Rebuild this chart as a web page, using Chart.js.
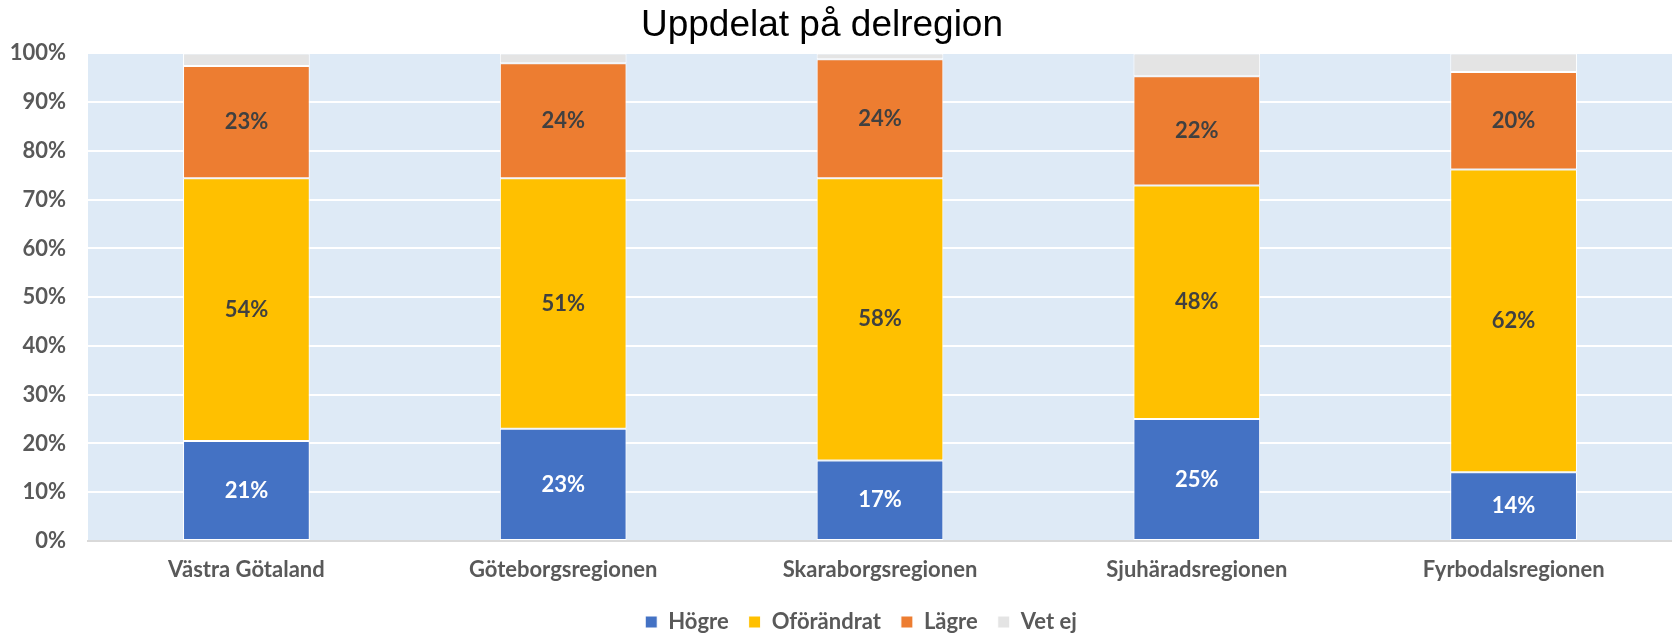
<!DOCTYPE html>
<html>
<head>
<meta charset="utf-8">
<script src="https://cdn.jsdelivr.net/npm/chart.js@4/dist/chart.umd.min.js"></script>
<style>
  html, body { margin: 0; padding: 0; background: #ffffff; }
  #wrap { width: 1672px; height: 635px; position: relative; }
</style>
</head>
<body>
<div id="wrap"><canvas id="c" width="1672" height="635"></canvas></div>
<script>
const categories = ["Västra Götaland", "Göteborgsregionen", "Skaraborgsregionen", "Sjuhäradsregionen", "Fyrbodalsregionen"];
const hogre = [20.5, 23.0, 16.5, 25.0, 14.1];
const oforandrat = [53.9, 51.4, 57.9, 47.9, 62.1];
const lagre = [23.0, 23.6, 24.4, 22.4, 20.0];
const vetEj = [2.6, 2.0, 1.2, 4.7, 3.8];
const yTicks = [0, 10, 20, 30, 40, 50, 60, 70, 80, 90, 100];
const titleText = "Uppdelat på delregion";

const FONT = "Lato";
const TXT = "#595959";
const FS = 22;

const plotBg = {
  id: 'plotBg',
  beforeDraw(chart) {
    const {ctx, chartArea: a} = chart;
    ctx.save();
    ctx.fillStyle = '#DEEAF6';
    ctx.fillRect(a.left, a.top, a.right - a.left, a.bottom - a.top);
    ctx.restore();
  }
};

const blockShift = {
  id: 'blockShift',
  afterLayout(chart) {
    const t = chart.titleBlock;
    if (t) { t.left -= 14; t.right -= 14; }
    const l = chart.legend;
    if (l) { l.left += 25; l.right += 25; }
  }
};

const barLabels = {
  id: 'barLabels',
  afterDatasetsDraw(chart) {
    const ctx = chart.ctx;
    ctx.save();
    ctx.font = "bold " + FS + "px " + FONT;
    ctx.textAlign = 'center';
    ctx.textBaseline = 'middle';
    chart.data.datasets.forEach((ds, di) => {
      if (!ds.showLabel) return;
      const meta = chart.getDatasetMeta(di);
      meta.data.forEach((el, i) => {
        const p = el.getProps(['x', 'y', 'base'], true);
        ctx.fillStyle = ds.labelColor;
        ctx.fillText(Math.round(ds.data[i]) + '%', p.x, (p.y + p.base) / 2);
      });
    });
    ctx.restore();
  }
};

const mk = (label, data, color, showLabel, labelColor) => ({
  label, data, backgroundColor: color, borderColor: '#ffffff', borderWidth: 1,
  borderSkipped: false, categoryPercentage: 1.0, barPercentage: 0.4,
  showLabel, labelColor
});

new Chart(document.getElementById('c'), {
  type: 'bar',
  data: {
    labels: categories,
    datasets: [
      mk('Högre', hogre, '#4472C4', true, '#ffffff'),
      mk('Oförändrat', oforandrat, '#FFC000', true, '#404040'),
      mk('Lägre', lagre, '#ED7D31', true, '#404040'),
      mk('Vet ej', vetEj, '#E4E4E4', false, '#404040')
    ]
  },
  options: {
    responsive: false,
    animation: false,
    devicePixelRatio: 1,
    layout: { padding: { left: 0, right: 0, top: 0, bottom: -8 } },
    plugins: {
      title: {
        display: true, text: titleText, color: '#000000',
        font: { family: "Liberation Sans", size: 37, weight: 'normal' },
        padding: { top: 4, bottom: 5 }
      },
      legend: {
        position: 'bottom',
        labels: {
          boxWidth: 12, boxHeight: 12, padding: 20, color: TXT,
          font: { family: FONT, size: FS, weight: 'bold' }
        }
      },
      tooltip: { enabled: false }
    },
    scales: {
      x: {
        stacked: true,
        grid: { display: false, drawTicks: false },
        border: { display: true, color: '#D9D9D9', width: 2 },
        ticks: { color: TXT, padding: 16, font: { family: FONT, size: FS, weight: 'bold' } },
        afterFit(s) { s.height = 50; }
      },
      y: {
        stacked: true, min: 0, max: 100,
        afterBuildTicks(s) { s.ticks = yTicks.map(v => ({ value: v })); },
        grid: { color: '#ffffff', lineWidth: 2, drawTicks: false },
        border: { display: false },
        ticks: { color: TXT, padding: 22, font: { family: FONT, size: FS, weight: 'bold' },
                 callback: v => v + '%' },
        afterFit(s) { s.width = 88; }
      }
    }
  },
  plugins: [plotBg, blockShift, barLabels]
});
</script>
</body>
</html>
